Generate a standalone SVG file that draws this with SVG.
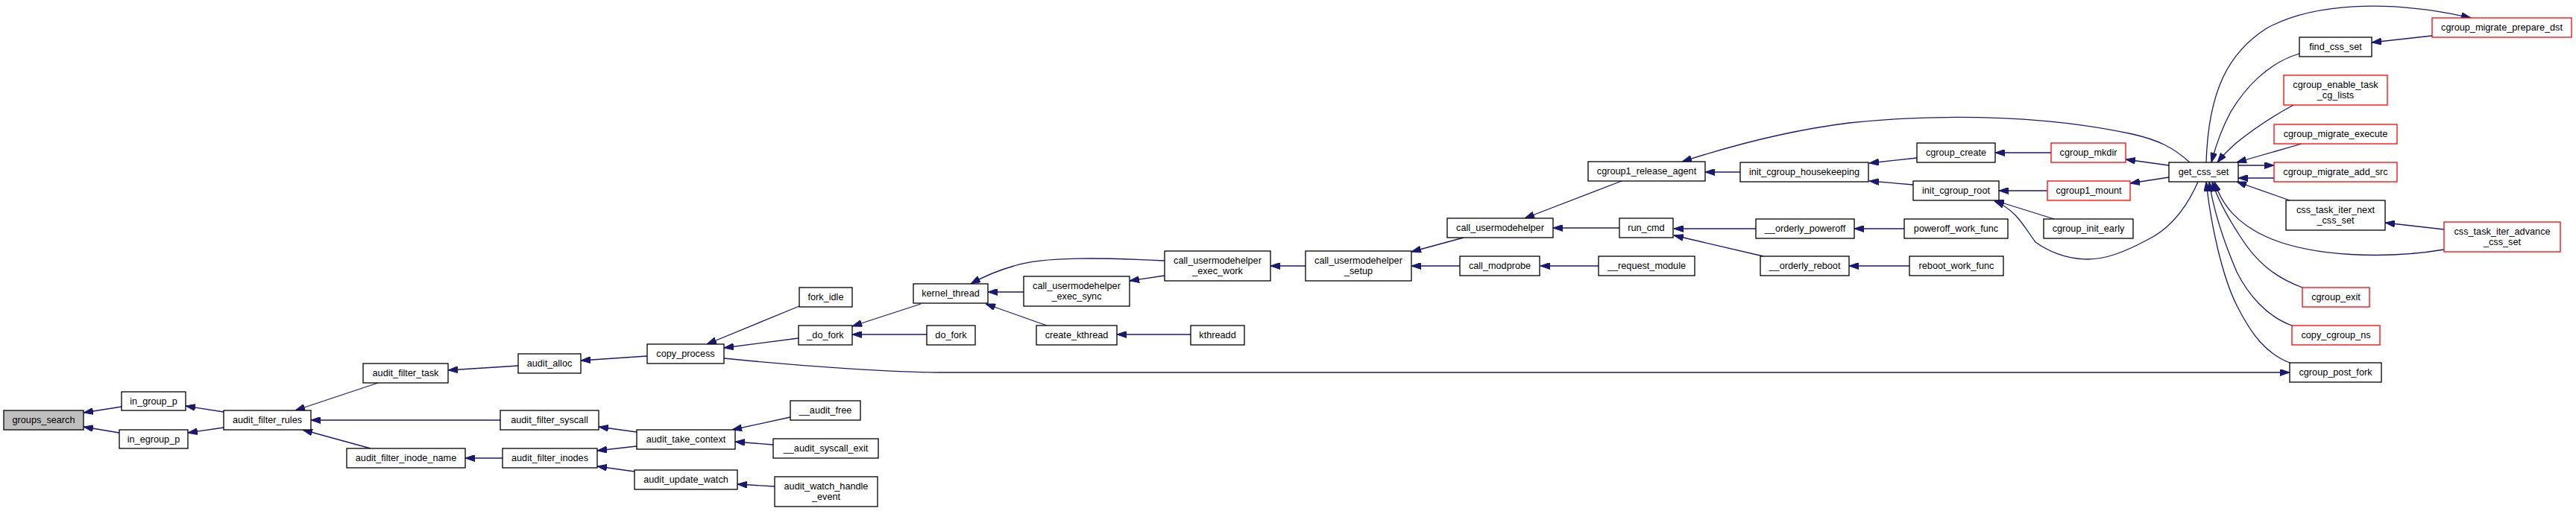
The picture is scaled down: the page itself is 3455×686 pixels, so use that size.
<svg xmlns="http://www.w3.org/2000/svg" width="3455" height="686" viewBox="0 0 3455 686">
<style>
.n rect{fill:#fff;stroke:#000;stroke-width:1.3}
.n.r rect{stroke:#f00}
.n.g rect{fill:#bfbfbf}
text{font-family:"Liberation Sans",Arial,Helvetica,sans-serif;font-size:12.7px;text-anchor:middle;fill:#000}
.e path{fill:none;stroke:#191970;stroke-width:1.3;marker-end:url(#a)}
</style>
<defs>
<marker id="a" viewBox="0 0 13 9" refX="13" refY="4.5" markerWidth="13" markerHeight="9" markerUnits="userSpaceOnUse" orient="auto"><path d="M0,0L13,4.5L0,9z" fill="#191970" stroke="#191970"/></marker>
</defs>
<rect width="3455" height="686" fill="#fff"/>
<g class="e" id="edges">
<path d="M163,546 L112,554"/>
<path d="M160,581 L112,573"/>
<path d="M300,553 L249,545"/>
<path d="M300,574 L252,581"/>
<path d="M507,514 L396,551"/>
<path d="M671,564 L417,564"/>
<path d="M497,602 L406,577"/>
<path d="M695,491 L601,497"/>
<path d="M674,615 L624,615"/>
<path d="M868,478 L779,484"/>
<path d="M854,580 L803,573"/>
<path d="M854,599 L801,605"/>
<path d="M851,633 L801,626"/>
<path d="M1072,411 L948,462"/>
<path d="M1071,454 L971,467"/>
<path d="M971,481 C1080,492 1200,500 1260,500 L3071,500"/>
<path d="M1060,560 L982,577"/>
<path d="M1037,597 L986,593"/>
<path d="M1039,653 L989,650"/>
<path d="M1235,408 L1143,438"/>
<path d="M1243,449 L1143,449"/>
<path d="M1373,392 L1325,392"/>
<path d="M1404,437 L1322,408"/>
<path d="M1562,350 C1480,346 1400,344 1360,357 C1335,364 1318,372 1302,381"/>
<path d="M1562,370 L1515,377"/>
<path d="M1597,449 L1498,449"/>
<path d="M1751,357 L1704,357"/>
<path d="M1963,319 L1893,338"/>
<path d="M1958,357 L1893,357"/>
<path d="M2175,243 L2045,293"/>
<path d="M2172,306 L2083,306"/>
<path d="M2144,357 L2066,357"/>
<path d="M2334,231 L2287,231"/>
<path d="M2937,218 C2915,198 2895,188 2860,180 C2760,158 2620,150 2480,165 C2400,175 2330,193 2256,217"/>
<path d="M2355,307 L2245,307"/>
<path d="M2365,344 L2245,316"/>
<path d="M2571,212 L2507,219"/>
<path d="M2566,248 L2507,243"/>
<path d="M2554,307 L2487,307"/>
<path d="M2561,357 L2480,357"/>
<path d="M2751,205 L2676,205"/>
<path d="M2746,256 L2681,256"/>
<path d="M2755,294 L2675,269"/>
<path d="M2948,244 C2930,285 2905,310 2880,322 C2850,338 2825,348 2800,348 C2770,348 2745,336 2730,325 C2715,305 2705,282 2675,270"/>
<path d="M2909,222 L2851,214"/>
<path d="M2909,238 L2857,246"/>
<path d="M2959,218 C2962,120 2990,70 3040,38 C3100,5 3200,-2 3314,24"/>
<path d="M3262,48 L3181,57"/>
<path d="M3084,72 C3040,85 3010,120 2992,150 C2980,172 2972,195 2966,218"/>
<path d="M3076,141 C3050,155 3020,175 2998,193 C2990,200 2982,208 2974,218"/>
<path d="M3087,193 L3000,218"/>
<path d="M3002,222 L3050,222"/>
<path d="M3050,239 L3002,239"/>
<path d="M3071,269 L3000,244"/>
<path d="M3278,308 L3199,299"/>
<path d="M3278,335 C3200,348 3100,345 3040,318 C3000,300 2980,275 2970,244"/>
<path d="M3088,386 C3050,372 3025,350 3005,318 C2990,295 2975,270 2967,244"/>
<path d="M3074,437 C3040,425 3015,395 3000,365 C2985,330 2970,290 2963,244"/>
<path d="M3071,487 C3040,475 3020,450 3000,410 C2980,370 2965,300 2959,244"/>
</g>
<g class="n g" id="groups_search"><rect x="5" y="551" width="107" height="26"/><text x="58.5" y="568">groups_search</text></g>
<g class="n" id="in_group_p"><rect x="163" y="526" width="86" height="25"/><text x="206" y="542.5">in_group_p</text></g>
<g class="n" id="in_egroup_p"><rect x="160" y="577" width="92" height="25"/><text x="206" y="593.5">in_egroup_p</text></g>
<g class="n" id="audit_filter_rules"><rect x="300" y="551" width="117" height="26"/><text x="358.5" y="568">audit_filter_rules</text></g>
<g class="n" id="audit_filter_task"><rect x="487" y="488" width="114" height="26"/><text x="544" y="505">audit_filter_task</text></g>
<g class="n" id="audit_filter_syscall"><rect x="671" y="551" width="132" height="26"/><text x="737" y="568">audit_filter_syscall</text></g>
<g class="n" id="audit_filter_inode_name"><rect x="465" y="602" width="159" height="26"/><text x="544.5" y="619">audit_filter_inode_name</text></g>
<g class="n" id="audit_alloc"><rect x="695" y="475" width="84" height="26"/><text x="737" y="492">audit_alloc</text></g>
<g class="n" id="audit_filter_inodes"><rect x="674" y="602" width="127" height="26"/><text x="737.5" y="619">audit_filter_inodes</text></g>
<g class="n" id="copy_process"><rect x="868" y="462" width="103" height="26"/><text x="919.5" y="479">copy_process</text></g>
<g class="n" id="audit_take_context"><rect x="854" y="577" width="132" height="26"/><text x="920" y="594">audit_take_context</text></g>
<g class="n" id="audit_update_watch"><rect x="851" y="631" width="138" height="26"/><text x="920" y="648">audit_update_watch</text></g>
<g class="n" id="fork_idle"><rect x="1072" y="386" width="71" height="26"/><text x="1107.5" y="403">fork_idle</text></g>
<g class="n" id="_do_fork"><rect x="1071" y="437" width="72" height="26"/><text x="1107" y="454">_do_fork</text></g>
<g class="n" id="__audit_free"><rect x="1060" y="538" width="94" height="26"/><text x="1107" y="555">__audit_free</text></g>
<g class="n" id="__audit_syscall_exit"><rect x="1037" y="589" width="141" height="26"/><text x="1107.5" y="606">__audit_syscall_exit</text></g>
<g class="n" id="audit_watch_handle_event"><rect x="1039" y="640" width="138" height="40"/><text x="1108" y="657">audit_watch_handle</text><text x="1108" y="671">_event</text></g>
<g class="n" id="kernel_thread"><rect x="1225" y="381" width="100" height="26"/><text x="1275" y="398">kernel_thread</text></g>
<g class="n" id="do_fork"><rect x="1243" y="437" width="65" height="26"/><text x="1275.5" y="454">do_fork</text></g>
<g class="n" id="call_usermodehelper_exec_sync"><rect x="1373" y="371" width="142" height="40"/><text x="1444" y="388">call_usermodehelper</text><text x="1444" y="402">_exec_sync</text></g>
<g class="n" id="create_kthread"><rect x="1390" y="437" width="108" height="26"/><text x="1444" y="454">create_kthread</text></g>
<g class="n" id="call_usermodehelper_exec_work"><rect x="1562" y="337" width="142" height="40"/><text x="1633" y="354">call_usermodehelper</text><text x="1633" y="368">_exec_work</text></g>
<g class="n" id="kthreadd"><rect x="1597" y="437" width="72" height="26"/><text x="1633" y="454">kthreadd</text></g>
<g class="n" id="call_usermodehelper_setup"><rect x="1751" y="337" width="142" height="40"/><text x="1822" y="354">call_usermodehelper</text><text x="1822" y="368">_setup</text></g>
<g class="n" id="call_usermodehelper"><rect x="1941" y="293" width="142" height="26"/><text x="2012" y="310">call_usermodehelper</text></g>
<g class="n" id="call_modprobe"><rect x="1958" y="344" width="107" height="26"/><text x="2011.5" y="361">call_modprobe</text></g>
<g class="n" id="cgroup1_release_agent"><rect x="2130" y="217" width="157" height="26"/><text x="2208.5" y="234">cgroup1_release_agent</text></g>
<g class="n" id="run_cmd"><rect x="2172" y="293" width="72" height="26"/><text x="2208" y="310">run_cmd</text></g>
<g class="n" id="__request_module"><rect x="2144" y="344" width="129" height="26"/><text x="2208.5" y="361">__request_module</text></g>
<g class="n" id="init_cgroup_housekeeping"><rect x="2334" y="218" width="172" height="26"/><text x="2420" y="235">init_cgroup_housekeeping</text></g>
<g class="n" id="__orderly_poweroff"><rect x="2355" y="294" width="132" height="26"/><text x="2421" y="311">__orderly_poweroff</text></g>
<g class="n" id="__orderly_reboot"><rect x="2361" y="344" width="119" height="26"/><text x="2420.5" y="361">__orderly_reboot</text></g>
<g class="n" id="cgroup_create"><rect x="2571" y="192" width="105" height="26"/><text x="2623.5" y="209">cgroup_create</text></g>
<g class="n" id="init_cgroup_root"><rect x="2566" y="243" width="115" height="26"/><text x="2623.5" y="260">init_cgroup_root</text></g>
<g class="n" id="poweroff_work_func"><rect x="2554" y="294" width="139" height="26"/><text x="2623.5" y="311">poweroff_work_func</text></g>
<g class="n" id="reboot_work_func"><rect x="2561" y="344" width="126" height="26"/><text x="2624" y="361">reboot_work_func</text></g>
<g class="n r" id="cgroup_mkdir"><rect x="2751" y="192" width="100" height="26"/><text x="2801" y="209">cgroup_mkdir</text></g>
<g class="n r" id="cgroup1_mount"><rect x="2746" y="243" width="111" height="26"/><text x="2801.5" y="260">cgroup1_mount</text></g>
<g class="n" id="cgroup_init_early"><rect x="2741" y="294" width="120" height="26"/><text x="2801" y="311">cgroup_init_early</text></g>
<g class="n" id="get_css_set"><rect x="2909" y="218" width="93" height="26"/><text x="2955.5" y="235">get_css_set</text></g>
<g class="n r" id="cgroup_migrate_prepare_dst"><rect x="3262" y="24" width="187" height="26"/><text x="3355.5" y="41">cgroup_migrate_prepare_dst</text></g>
<g class="n" id="find_css_set"><rect x="3084" y="50" width="97" height="26"/><text x="3132.5" y="67">find_css_set</text></g>
<g class="n r" id="cgroup_enable_task_cg_lists"><rect x="3063" y="101" width="139" height="40"/><text x="3132.5" y="118">cgroup_enable_task</text><text x="3132.5" y="132">_cg_lists</text></g>
<g class="n r" id="cgroup_migrate_execute"><rect x="3050" y="167" width="165" height="26"/><text x="3132.5" y="184">cgroup_migrate_execute</text></g>
<g class="n r" id="cgroup_migrate_add_src"><rect x="3050" y="218" width="165" height="26"/><text x="3132.5" y="235">cgroup_migrate_add_src</text></g>
<g class="n" id="css_task_iter_next_css_set"><rect x="3066" y="269" width="133" height="40"/><text x="3132.5" y="286">css_task_iter_next</text><text x="3132.5" y="300">_css_set</text></g>
<g class="n r" id="css_task_iter_advance_css_set"><rect x="3278" y="298" width="156" height="40"/><text x="3356" y="315">css_task_iter_advance</text><text x="3356" y="329">_css_set</text></g>
<g class="n r" id="cgroup_exit"><rect x="3088" y="386" width="90" height="26"/><text x="3133" y="403">cgroup_exit</text></g>
<g class="n r" id="copy_cgroup_ns"><rect x="3074" y="437" width="118" height="26"/><text x="3133" y="454">copy_cgroup_ns</text></g>
<g class="n" id="cgroup_post_fork"><rect x="3071" y="487" width="123" height="26"/><text x="3132.5" y="504">cgroup_post_fork</text></g>
</svg>
